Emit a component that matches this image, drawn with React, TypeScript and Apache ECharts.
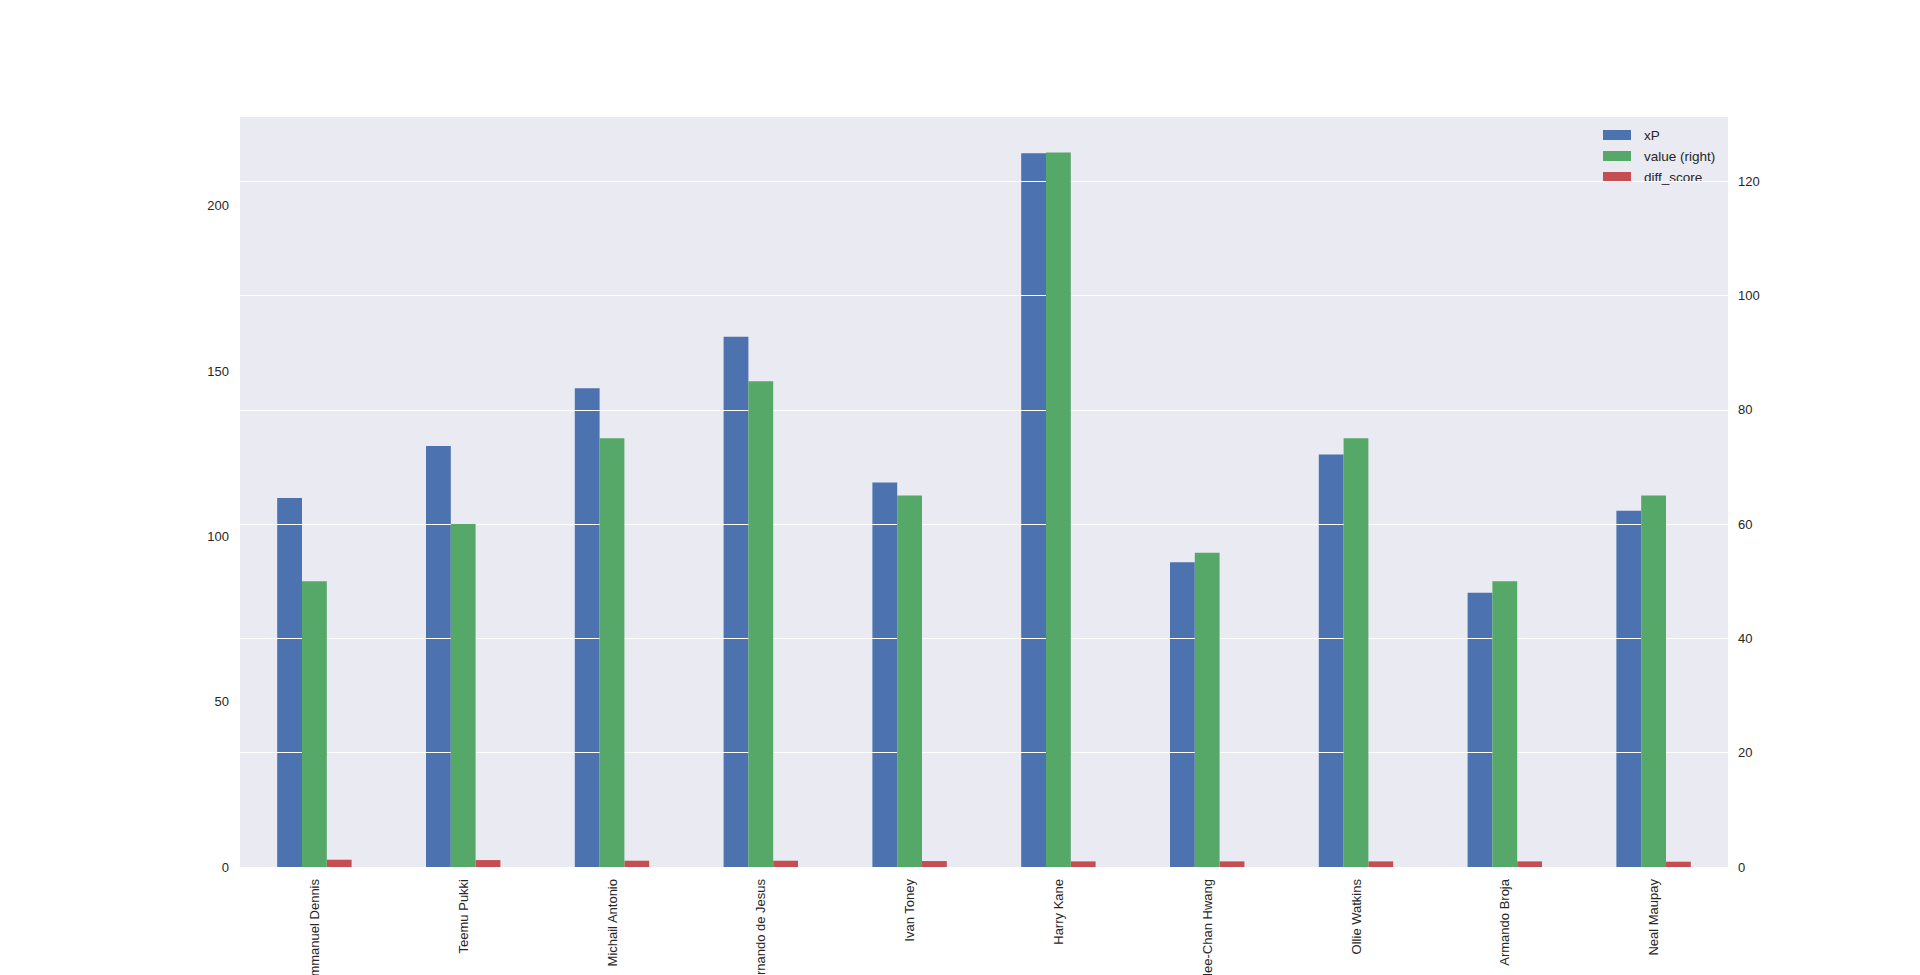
import React, { useEffect, useRef } from "react";
import * as echarts from "echarts";

const players = [
  "Emmanuel Dennis",
  "Teemu Pukki",
  "Michail Antonio",
  "Gabriel Fernando de Jesus",
  "Ivan Toney",
  "Harry Kane",
  "Hee-Chan Hwang",
  "Ollie Watkins",
  "Armando Broja",
  "Neal Maupay",
];
const xP = [111.6, 127.4, 144.8, 160.4, 116.3, 215.9, 92.2, 124.8, 83.0, 107.8];
const value = [50, 60, 75, 85, 65, 125, 55, 75, 50, 65];
const diffScore = [2.2, 2.1, 1.9, 1.9, 1.8, 1.7, 1.7, 1.7, 1.7, 1.6];

const leftTicks = [0, 50, 100, 150, 200];
const rightTicks = [0, 20, 40, 60, 80, 100, 120];

const FONT = "'Liberation Sans', Arial, sans-serif";
const TEXT = "#262626";

export default function App() {
  const ref = useRef<HTMLDivElement>(null);
  useEffect(() => {
    if (!ref.current) return;
    const chart = echarts.init(ref.current, undefined, { renderer: "svg" });
    const barW = 24.8;
    chart.setOption({
      animation: false,
      textStyle: { fontFamily: FONT },
      grid: {
        left: 240,
        right: 192,
        top: 116,
        bottom: 108,
        show: true,
        backgroundColor: "#EAEAF2",
        borderWidth: 0,
        containLabel: false,
        outerBoundsMode: "none",
      },
      legend: {
        orient: "vertical",
        left: 1598,
        top: 123,
        itemWidth: 28,
        itemHeight: 10,
        itemGap: 7,
        z: 4,
        icon: "rect",
        textStyle: { fontSize: 13.5, color: TEXT, fontFamily: FONT, padding: [0, 0, 0, 8] },
        data: ["xP", "value (right)", "diff_score"],
      },
      xAxis: {
        type: "category",
        data: players,
        axisLine: { show: false },
        axisTick: { show: false },
        axisLabel: {
          rotate: 90,
          fontSize: 13,
          color: TEXT,
          fontFamily: FONT,
          margin: 12,
          interval: 0,
        },
      },
      yAxis: [
        {
          type: "value",
          min: 0,
          max: 227.2,
          interval: 50,
          position: "left",
          axisLine: { show: false },
          axisTick: { show: false },
          splitLine: { show: false },
          axisLabel: {
            fontSize: 13,
            color: TEXT,
            fontFamily: FONT,
            margin: 11,
            showMaxLabel: false,
            formatter: (v: number) => (leftTicks.includes(v) ? String(v) : ""),
          },
        },
        {
          type: "value",
          min: 0,
          max: 131.4,
          interval: 20,
          position: "right",
          z: 5,
          axisLine: { show: false },
          axisTick: { show: false },
          splitLine: { show: true, lineStyle: { color: "#ffffff", width: 1 } },
          axisLabel: {
            fontSize: 13,
            color: TEXT,
            fontFamily: FONT,
            margin: 10,
            showMaxLabel: false,
            formatter: (v: number) => (rightTicks.includes(v) ? String(v) : ""),
          },
        },
      ],
      series: [
        {
          name: "xP",
          type: "bar",
          yAxisIndex: 0,
          data: xP,
          barWidth: barW,
          barGap: "0%",
          itemStyle: { color: "#4C72B0" },
          z: 2,
        },
        {
          name: "value (right)",
          type: "bar",
          yAxisIndex: 1,
          data: value,
          barWidth: barW,
          barGap: "0%",
          itemStyle: { color: "#55A868" },
          z: 6,
        },
        {
          name: "diff_score",
          type: "bar",
          yAxisIndex: 0,
          data: diffScore,
          barWidth: barW,
          barGap: "0%",
          itemStyle: { color: "#C44E52" },
          z: 2,
        },
      ],
    });
    return () => chart.dispose();
  }, []);
  return (
    <div
      ref={ref}
      style={{ position: "fixed", left: 0, top: 0, width: 1920, height: 975, background: "#fff" }}
    />
  );
}
